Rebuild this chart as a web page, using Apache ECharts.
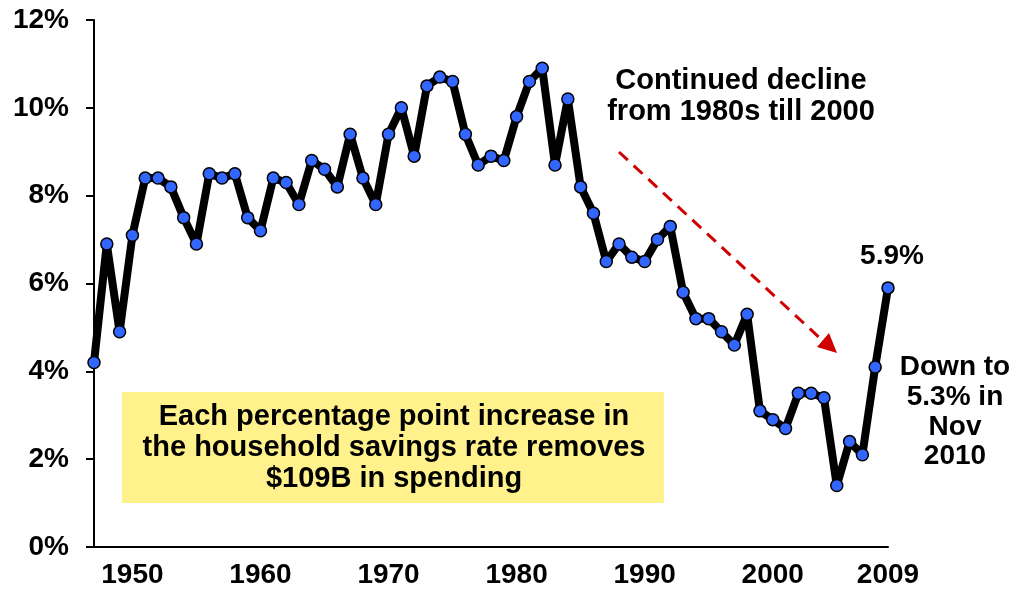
<!DOCTYPE html>
<html>
<head>
<meta charset="utf-8">
<script src="https://cdn.jsdelivr.net/npm/echarts@6/dist/echarts.min.js"></script>
<style>
html,body{margin:0;padding:0;background:#fff;}
#c{width:1014px;height:589px;}
</style>
</head>
<body>
<div id="c"></div>
<script>
const years = [];
for (let y = 1947; y <= 2009; y++) years.push(String(y));
const savingsRate = [4.2, 6.9, 4.9, 7.1, 8.4, 8.4, 8.2, 7.5, 6.9, 8.5,
  8.4, 8.5, 7.5, 7.2, 8.4, 8.3, 7.8, 8.8, 8.6, 8.2,
  9.4, 8.4, 7.8, 9.4, 10.0, 8.9, 10.5, 10.7, 10.6, 9.4,
  8.7, 8.9, 8.8, 9.8, 10.6, 10.9, 8.7, 10.2, 8.2, 7.6,
  6.5, 6.9, 6.6, 6.5, 7.0, 7.3, 5.8, 5.2, 5.2, 4.9,
  4.6, 5.3, 3.1, 2.9, 2.7, 3.5, 3.5, 3.4, 1.4, 2.4,
  2.1, 4.1, 5.9];
const xTickLabels = ['1950', '1960', '1970', '1980', '1990', '2000', '2009'];
const yTicks = [0, 2, 4, 6, 8, 10, 12];

const FONT = "'Liberation Sans', Arial, sans-serif";
const chart = echarts.init(document.getElementById('c'));
chart.setOption({
  animation: false,
  grid: { left: 94, top: 20, width: 794, height: 529, containLabel: false },
  xAxis: {
    type: 'category', data: years, boundaryGap: false,
    axisLine: { lineStyle: { color: '#000', width: 2 } },
    axisTick: { show: false },
    axisLabel: {
      interval: 0, margin: 14,
      color: '#000', fontFamily: FONT, fontWeight: 'bold', fontSize: 28,
      formatter: v => xTickLabels.indexOf(v) >= 0 ? v : ''
    },
    splitLine: { show: false }
  },
  yAxis: {
    type: 'value', min: yTicks[0], max: yTicks[yTicks.length - 1], interval: 2,
    axisLine: { show: true, lineStyle: { color: '#000', width: 2 } },
    axisTick: { show: true, length: 8, lineStyle: { color: '#000', width: 2 } },
    axisLabel: { margin: 25, color: '#000', fontFamily: FONT, fontWeight: 'bold', fontSize: 28, formatter: '{value}%' },
    splitLine: { show: false }
  },
  series: [{
    type: 'line', data: savingsRate,
    lineStyle: { color: '#000', width: 8, join: 'round' },
    symbol: 'circle', symbolSize: 12,
    itemStyle: { color: '#3366ff', borderColor: '#000', borderWidth: 1.5 },
    z: 5
  }],
  graphic: [
    { type: 'rect', shape: { x: 122, y: 392, width: 542, height: 111 }, style: { fill: '#fff28c' }, z: 50 },
    { type: 'text', x: 394, y: 448, z: 100,
      style: { text: 'Each percentage point increase in\nthe household savings rate removes\n$109B in spending',
        font: 'bold 29px ' + FONT, fill: '#000', textAlign: 'center', textVerticalAlign: 'middle', lineHeight: 31 } },
    { type: 'text', x: 741, y: 96, z: 100,
      style: { text: 'Continued decline\nfrom 1980s till 2000',
        font: 'bold 29px ' + FONT, fill: '#000', textAlign: 'center', textVerticalAlign: 'middle', lineHeight: 31 } },
    { type: 'text', x: 892, y: 256, z: 100,
      style: { text: '5.9%', font: 'bold 28px ' + FONT, fill: '#000', textAlign: 'center', textVerticalAlign: 'middle' } },
    { type: 'text', x: 955, y: 412, z: 100,
      style: { text: 'Down to\n5.3% in\nNov\n2010', font: 'bold 28px ' + FONT, fill: '#000', textAlign: 'center', textVerticalAlign: 'middle', lineHeight: 29.7 } },
    { type: 'line', shape: { x1: 619, y1: 152, x2: 822, y2: 340 }, z: 60,
      style: { stroke: '#d00000', lineWidth: 3, lineDash: [12, 8] } },
    { type: 'polygon', shape: { points: [[837, 353], [817, 347], [829, 333]] }, z: 60,
      style: { fill: '#d00000' } }
  ]
});
</script>
</body>
</html>
